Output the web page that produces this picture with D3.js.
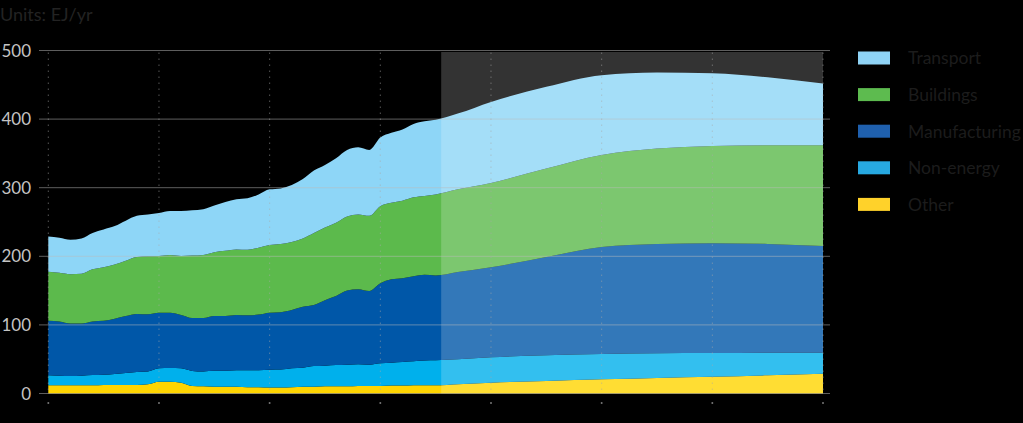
<!DOCTYPE html>
<html>
<head>
<meta charset="utf-8">
<script src="https://cdn.jsdelivr.net/npm/d3@7"></script>
<style>
  html, body { margin: 0; padding: 0; background: #000; }
  svg { display: block; }
  text { font-family: Lato, "Open Sans", sans-serif; }
</style>
</head>
<body>
<svg id="chart" width="1023" height="423"></svg>
<script>
const years = [1980,1981,1982,1983,1984,1985,1986,1987,1988,1989,
  1990,1991,1992,1993,1994,1995,1996,1997,1998,1999,
  2000,2001,2002,2003,2004,2005,2006,2007,2008,2009,
  2010,2011,2012,2013,2014,2015,2017,2020,2025,2030,2035,2040,2045,2050];

const other = [12,12,12,12,12,12.5,12.5,12.5,12.5,13.4,
  17.2,17.2,15.7,11,10.5,10,9.7,9.7,9.2,9.2,
  8.7,8.7,9.2,9.7,10,10.5,10.5,10.5,11,11,
  11,11.5,11.5,12,12,12,13.5,15.8,18.2,20.7,22.7,24.5,26.5,28.9];

const nonEnergy = [14.5,14,13.5,14,15,15,16,17.5,18.8,18.6,
  19.5,19.8,21,21.8,21.5,23,23.3,24.3,24.8,24.8,
  26,26.3,27.5,27.8,30,30,31,31.5,31.5,31,
  33,33.5,34.5,35,36,36.4,36.5,37,37.5,36.9,35.9,34.5,33,30.6];

const manufacturing = [79.5,79,76.5,76,78,78.5,80.5,83,84.7,83.5,
  81.1,80.8,77.7,77.2,78,80,80,80.4,80,81,
  83.1,83.5,85,89,89,95.5,100.5,108,109.5,107.4,
  116.6,121.5,122,124,125,123.6,127,131.2,143.3,155.9,159.4,160,158.5,155.5];

const buildings = [71.6,71,72,72.5,76,78,79,80.6,83,84.5,
  82.6,84.2,86.1,91,92,93,95,95.6,95.5,97.5,
  98.7,99.5,99.3,99.5,105,106,107,108,109,109.6,
  112.4,111.5,113,115,115,118,120.6,123,129,134.2,139,141.8,144,147];

const transport = [51.4,51,50,51.5,53,55,56,58.4,60,61,
  62.6,64,65.5,66,66.5,68,71,73,75,77.5,
  81.1,81,83,86.7,91,91,94,97,98,96,
  100,102,104,107,109,109,110.4,118,119,116.3,111,106.2,99,90];

const seriesNames = ["Transport","Buildings","Manufacturing","Non-energy","Other"];
const seriesKeys = ["transport","buildings","manufacturing","nonEnergy","other"];
const areaColors = ["#8ED6F7","#5CBA4C","#0057A8","#00B0EC","#FFD500"];
const legendColors = ["#8FD3F5","#5DBB4F","#1F60AE","#27A9E1","#FFD22A"];

const yTicks = [0,100,200,300,400,500];
const xTicks = [1980,1990,2000,2010,2020,2030,2040,2050];
const projectionStart = 2015.5;
const unitsLabel = "Units: EJ/yr";

const rows = years.map((y, i) => ({
  year: y,
  transport: transport[i],
  buildings: buildings[i],
  manufacturing: manufacturing[i],
  nonEnergy: nonEnergy[i],
  other: other[i]
}));

const svg = d3.select("#chart");
const x = d3.scaleLinear().domain([1980, 2050]).range([48.3, 823]);
const y = d3.scaleLinear().domain([0, 500]).range([393.5, 50.5]);

const stackOrder = ["other","nonEnergy","manufacturing","buildings","transport"];
const stacked = d3.stack().keys(stackOrder)(rows);

const area = d3.area()
  .x(d => x(d.data.year))
  .y0(d => y(d[0]))
  .y1(d => y(d[1]))
  .curve(d3.curveMonotoneX);

svg.append("g").selectAll("path")
  .data(stacked)
  .join("path")
  .attr("d", area)
  .attr("fill", d => areaColors[seriesKeys.indexOf(d.key)]);

// projection overlay
svg.append("rect")
  .attr("x", x(projectionStart))
  .attr("y", y(500) + 1.5)
  .attr("width", x(2050) - x(projectionStart))
  .attr("height", y(0) - y(500) - 1.5)
  .attr("fill", "#fff")
  .attr("fill-opacity", 0.2);

// horizontal gridlines
svg.append("g").selectAll("line")
  .data(yTicks)
  .join("line")
  .attr("x1", 39).attr("x2", 830)
  .attr("y1", d => y(d)).attr("y2", d => y(d))
  .attr("stroke", "#bbb")
  .attr("stroke-opacity", 0.5)
  .attr("stroke-width", 1);

// vertical dotted gridlines
svg.append("g").selectAll("line")
  .data(xTicks)
  .join("line")
  .attr("x1", d => x(d)).attr("x2", d => x(d))
  .attr("y1", y(500) + 2).attr("y2", y(0))
  .attr("stroke", "#aaa")
  .attr("stroke-opacity", 0.5)
  .attr("stroke-width", 1)
  .attr("stroke-dasharray", "1.5,4.5");

// x tick dots
svg.append("g").selectAll("circle")
  .data(xTicks)
  .join("circle")
  .attr("cx", d => x(d)).attr("cy", 403)
  .attr("r", 1)
  .attr("fill", "#777");

// y labels
svg.append("g").selectAll("text")
  .data(yTicks)
  .join("text")
  .attr("x", 31)
  .attr("y", d => y(d))
  .attr("dy", "0.36em")
  .attr("text-anchor", "end")
  .attr("fill", "#c4c4c4")
  .attr("font-size", 17)
  .text(d => d);

svg.append("text")
  .attr("x", 0).attr("y", 21)
  .attr("fill", "#232323")
  .attr("font-size", 18)
  .text(unitsLabel);

// legend
const lg = svg.append("g").selectAll("g")
  .data(seriesNames)
  .join("g")
  .attr("transform", (d, i) => `translate(858, ${58 + i * 36.6})`);
lg.append("rect")
  .attr("x", 0).attr("y", -6.5)
  .attr("width", 32).attr("height", 13)
  .attr("fill", (d, i) => legendColors[i]);
lg.append("text")
  .attr("x", 50).attr("y", 0)
  .attr("dy", "0.36em")
  .attr("fill", "#1c1c1c")
  .attr("font-size", 17.5)
  .text(d => d);
</script>
</body>
</html>
